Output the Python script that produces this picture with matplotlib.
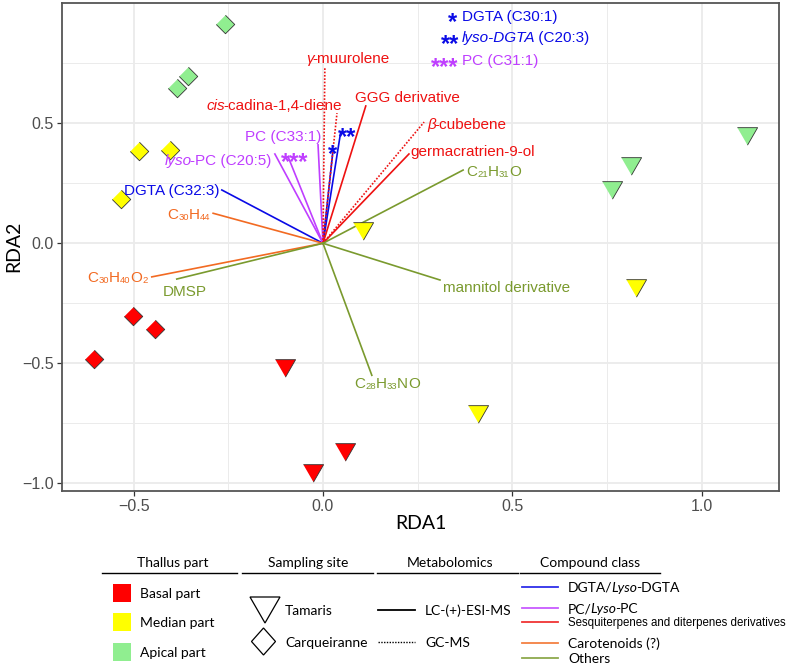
import matplotlib
matplotlib.use("Agg")
import matplotlib.pyplot as plt
from matplotlib.transforms import IdentityTransform
from matplotlib.lines import Line2D
from matplotlib.patches import Polygon, Rectangle

# ---- sample scores (RDA1, RDA2) ----
sample_rda1 = [-0.259, -0.356, -0.385, -0.486, -0.404, -0.533, -0.502, -0.444, -0.605,
               1.119, 0.813, 0.763, 0.106, 0.826, 0.410, -0.100, -0.026, 0.058]
sample_rda2 = [0.914, 0.697, 0.647, 0.385, 0.389, 0.185, -0.303, -0.357, -0.482,
               0.459, 0.334, 0.235, 0.063, -0.174, -0.700, -0.507, -0.945, -0.858]
sample_part = ["Apical"] * 3 + ["Median"] * 3 + ["Basal"] * 3 + ["Apical"] * 3 + ["Median"] * 3 + ["Basal"] * 3
sample_site = ["Carqueiranne"] * 9 + ["Tamaris"] * 9

# ---- compound scores ----
comp_names = ["DGTA (C30:1)", "lyso-DGTA (C20:3)", "DGTA (C32:3)",
              "PC (C33:1)", "lyso-PC (C20:5)", "PC (C31:1)",
              "GGG derivative", "germacratrien-9-ol", "g-muurolene", "cis-cadina-1,4-diene", "b-cubebene",
              "C30H44", "C30H40O2",
              "C21H31O", "mannitol derivative", "DMSP", "C28H33NO"]
comp_rda1 = [0.026, 0.047, -0.267, -0.013, -0.127, -0.092, 0.113, 0.227, 0.005, 0.037, 0.267,
             -0.290, -0.452, 0.370, 0.309, -0.386, 0.129]
comp_rda2 = [0.380, 0.465, 0.222, 0.410, 0.372, 0.360, 0.572, 0.372, 0.735, 0.542, 0.505,
             0.125, -0.140, 0.305, -0.153, -0.149, -0.550]
comp_class = ["DGTA"] * 3 + ["PC"] * 3 + ["Terpene"] * 5 + ["Carotenoid"] * 2 + ["Other"] * 4
comp_method = ["LC"] * 8 + ["GC", "GC", "GC"] + ["LC"] * 6

part_colors = {"Basal": "#FF0000", "Median": "#FFFF00", "Apical": "#90EE90"}
class_colors = {"DGTA": "#0A0AE6", "PC": "#BF3EFF", "Terpene": "#EE1111",
                "Carotenoid": "#F26A22", "Other": "#7A9A2E"}

W, H = 793, 666
fig = plt.figure(figsize=(W / 100, H / 100), dpi=100)
ax = fig.add_axes([62 / W, (H - 491) / H, (779 - 62) / W, (491 - 3) / H])
ax.set_xlim(-0.689, 1.204)
ax.set_ylim(-1.032, 1.001)

ax.set_xticks([-0.5, 0.0, 0.5, 1.0])
ax.set_yticks([-1.0, -0.5, 0.0, 0.5])
ax.set_xticks([-0.25, 0.25, 0.75], minor=True)
ax.set_yticks([-0.75, -0.25, 0.25, 0.75], minor=True)
ax.grid(which="major", color="#EBEBEB", lw=1.3)
ax.grid(which="minor", color="#EBEBEB", lw=0.7)
ax.set_axisbelow(True)
ax.tick_params(which="major", length=3.5, width=0.9, color="#333333", labelsize=11.5,
               labelcolor="#4D4D4D", pad=2.5)
ax.tick_params(which="minor", length=0)
for lab in ax.get_xticklabels() + ax.get_yticklabels():
    lab.set_family("Liberation Sans")
for sp in ax.spines.values():
    sp.set_color("#555555")
    sp.set_linewidth(1.3)

# ---- biplot arrows ----
for x, y, c, m in zip(comp_rda1, comp_rda2, comp_class, comp_method):
    ls = "-" if m == "LC" else (0, (1, 1))
    ax.plot([0, x], [0, y], color=class_colors[c], lw=1.2, ls=ls, zorder=2)

# ---- samples ----
tri = [(-1, 0.577), (1, 0.577), (0, -1.155)]
dia = [(0, 1), (1, 0), (0, -1), (-1, 0)]
for x, y, p, s in zip(sample_rda1, sample_rda2, sample_part, sample_site):
    if s == "Tamaris":
        ax.plot(x, y, ls="none", marker=tri, ms=16.8, mfc=part_colors[p], mec="#333333", mew=0.6, zorder=4)
    else:
        ax.plot(x, y, ls="none", marker=dia, ms=13.3, mfc=part_colors[p], mec="#333333", mew=0.6, zorder=4)

renderer = fig.canvas.get_renderer()


def rich(x, y, parts, color, size, ha="left", family="Liberation Sans", data=True, mid=0.36, weight="normal"):
    # place a run of text pieces (normal / italic / subscript) side by side
    if data:
        X, Y = ax.transData.transform((x, y))
    else:
        X, Y = x, H - y
    px = size * 100 / 72
    base = Y - mid * px
    texts = []
    for s, kind in parts:
        fs = size * 0.62 if kind == "s" else size
        t = fig.text(0, 0, s, transform=IdentityTransform(), fontsize=fs, family=family,
                     style="italic" if kind == "i" else "normal", color=color, weight=weight,
                     ha="left", va="baseline", zorder=5)
        texts.append((t, kind))
    widths = []
    for i, (t, k) in enumerate(texts):
        w = t.get_window_extent(renderer).width
        # italic pieces come out a bit loose next to upright ones
        if k == "i" and i < len(texts) - 1:
            w -= 1.5
        if i < len(texts) - 1 and texts[i + 1][1] == "i":
            w -= 1.0
        widths.append(w)
    total = sum(widths)
    if ha == "right":
        x0 = X - total
    elif ha == "center":
        x0 = X - total / 2
    else:
        x0 = X
    for (t, kind), w in zip(texts, widths):
        t.set_position((x0, base - (0.07 * px if kind == "s" else 0)))
        x0 += w


def formula(s):
    parts, num = [], ""
    for ch in s:
        if ch.isdigit():
            num += ch
        else:
            if num:
                parts.append((num, "s"))
                num = ""
            parts.append((ch, "n"))
    if num:
        parts.append((num, "s"))
    return parts


# label layout: name -> (x, y, ha, pieces)
label_layout = {
    "DGTA (C32:3)": (-0.272, 0.226, "right", [("DGTA (C32:3)", "n")]),
    "PC (C33:1)": (-0.003, 0.447, "right", [("PC (C33:1)", "n")]),
    "lyso-PC (C20:5)": (-0.135, 0.347, "right", [("lyso", "i"), ("-PC (C20:5)", "n")]),
    "GGG derivative": (0.084, 0.610, "left", [("GGG derivative", "n")]),
    "germacratrien-9-ol": (0.232, 0.385, "left", [("germacratrien-9-ol", "n")]),
    "g-muurolene": (0.066, 0.776, "center", [("γ", "i"), ("-muurolene", "n")]),
    "cis-cadina-1,4-diene": (0.050, 0.580, "right", [("cis", "i"), ("-cadina-1,4-diene", "n")]),
    "b-cubebene": (0.275, 0.500, "left", [("β", "i"), ("-cubebene", "n")]),
    "C30H44": (-0.298, 0.126, "right", formula("C30H44")),
    "C30H40O2": (-0.462, -0.140, "right", formula("C30H40O2")),
    "C21H31O": (0.378, 0.305, "left", formula("C21H31O")),
    "mannitol derivative": (0.317, -0.181, "left", [("mannitol derivative", "n")]),
    "DMSP": (-0.422, -0.195, "left", [("DMSP", "n")]),
    "C28H33NO": (0.082, -0.580, "left", formula("C28H33NO")),
}
star_layout = {
    "DGTA (C30:1)": ("*", 0.024, 0.400, 0.343, 0.951, [("DGTA (C30:1)", "n")]),
    "lyso-DGTA (C20:3)": ("**", 0.063, 0.472, 0.335, 0.860, [("lyso-DGTA", "i"), (" (C20:3)", "n")]),
    "PC (C31:1)": ("***", -0.074, 0.368, 0.322, 0.764, [("PC (C31:1)", "n")]),
}

for name, c in zip(comp_names, comp_class):
    col = class_colors[c]
    if name in label_layout:
        x, y, ha, parts = label_layout[name]
        rich(x, y, parts, col, 11, ha=ha)
    else:
        st, sx, sy, tx, ty, parts = star_layout[name]
        rich(sx, sy, [(st, "n")], col, 17, ha="center", mid=0.6, weight="bold")
        rich(tx, ty, [(st, "n")], col, 17, ha="center", mid=0.6, weight="bold")
        rich(0.367, ty, parts, col, 11, ha="left")

# axis titles
rich(421, 522, [("RDA1", "n")], "black", 14, ha="center", family="Lato", data=False)
fig.text(14, H - 246, "RDA2", transform=IdentityTransform(), rotation=90, fontsize=14,
         family="Lato", ha="center", va="center")

# ---- legend block ----
LF = "Lato"
headers = ["Thallus part", "Sampling site", "Metabolomics", "Compound class"]
header_x = [173, 308, 450, 590]
header_span = [(102, 237), (242, 373), (377, 518), (520, 660)]
for h, hx, (a, b) in zip(headers, header_x, header_span):
    rich(hx, 562, [(h, "n")], "black", 10, ha="center", family=LF, data=False)
    fig.add_artist(Line2D([a, b], [H - 573, H - 573], color="black", lw=1.0, transform=IdentityTransform()))

part_labels = ["Basal part", "Median part", "Apical part"]
for lab, key, yy in zip(part_labels, ["Basal", "Median", "Apical"], [593, 622, 652]):
    fig.add_artist(Rectangle((113, H - yy - 9), 18, 18, facecolor=part_colors[key], edgecolor="none",
                             transform=IdentityTransform()))
    rich(140, yy, [(lab, "n")], "black", 10, family=LF, data=False)

fig.add_artist(Polygon([(250, H - 597), (280, H - 597), (265, H - 623)], closed=True, fill=False,
                       edgecolor="black", lw=0.9, transform=IdentityTransform()))
fig.add_artist(Polygon([(263.5, H - 628), (275.5, H - 641.5), (263.5, H - 655), (251.5, H - 641.5)],
                       closed=True, fill=False, edgecolor="black", lw=0.9, transform=IdentityTransform()))
rich(285, 610, [("Tamaris", "n")], "black", 10, family=LF, data=False)
rich(285, 642, [("Carqueiranne", "n")], "black", 10, family=LF, data=False)

fig.add_artist(Line2D([378, 415], [H - 610, H - 610], color="black", lw=1.3, transform=IdentityTransform()))
fig.add_artist(Line2D([378, 415], [H - 642, H - 642], color="black", lw=1.0, ls=(0, (1, 1)),
                      transform=IdentityTransform()))
rich(425, 610, [("LC-(+)-ESI-MS", "n")], "black", 10, family=LF, data=False)
rich(425, 642, [("GC-MS", "n")], "black", 10, family=LF, data=False)

class_keys = ["DGTA", "PC", "Terpene", "Carotenoid", "Other"]
class_rows = [587, 608, 622, 643, 658]
class_text = [[("DGTA/", "n"), ("Lyso", "i"), ("-DGTA", "n")],
              [("PC/", "n"), ("Lyso", "i"), ("-PC", "n")],
              None,
              [("Carotenoids (?)", "n")],
              [("Others", "n")]]
for k, yy, parts in zip(class_keys, class_rows, class_text):
    fig.add_artist(Line2D([522, 558], [H - yy, H - yy], color=class_colors[k], lw=1.3, alpha=0.85,
                          transform=IdentityTransform()))
    if parts is None:
        rich(568, yy, [("Sesquiterpenes and diterpenes derivatives", "n")], "black", 8.3,
             family="Liberation Sans", data=False)
    else:
        rich(568, yy, parts, "black", 10, family=LF, data=False)

fig.savefig("out.png", dpi=100)
